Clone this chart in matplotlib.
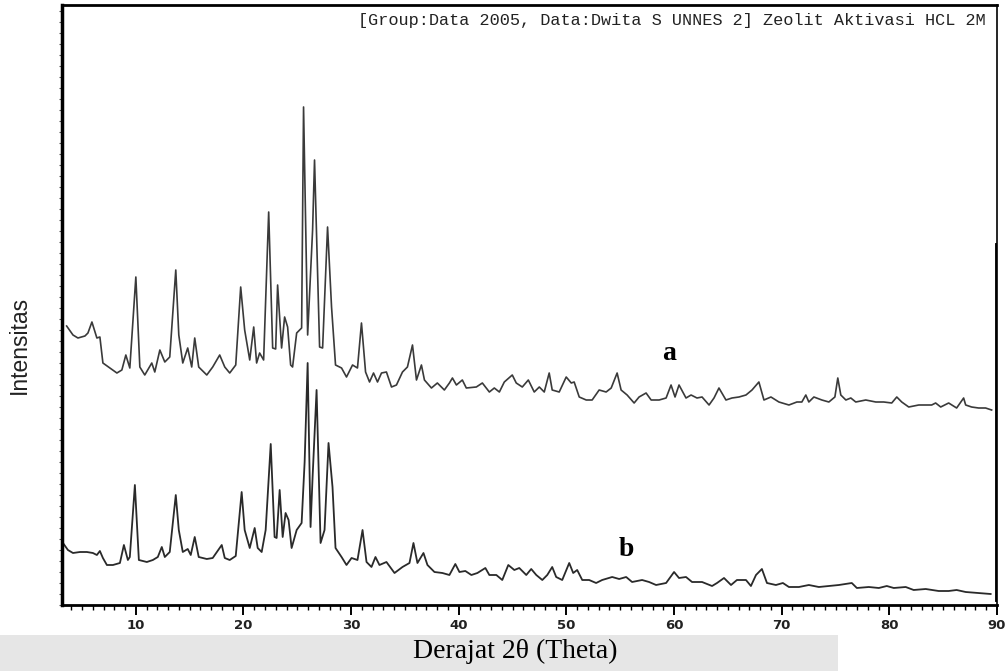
import matplotlib
matplotlib.use("Agg")
import matplotlib.pyplot as plt
from matplotlib.ticker import MultipleLocator, NullFormatter
from matplotlib.patches import Rectangle

# ---- data: 2-theta (degrees) and intensity (a.u.) ----
theta_a = [3.57, 4.16, 4.62, 5.27, 5.55, 5.92, 6.38, 6.66, 6.94, 7.59, 8.24, 8.70, 9.07, 9.44,
           10.00, 10.37, 10.83, 11.48, 11.76, 12.23, 12.69, 13.15, 13.71, 13.99, 14.36, 14.82,
           15.19, 15.47, 15.84, 16.59, 17.14, 17.79, 18.26, 18.72, 19.28, 19.74, 20.11, 20.58,
           20.95, 21.22, 21.50, 21.87, 22.34, 22.71, 22.99, 23.17, 23.54, 23.82, 24.10, 24.38,
           24.56, 24.94, 25.40, 25.58, 25.96, 26.42, 26.60, 27.07, 27.35, 27.81, 28.18, 28.55,
           29.11, 29.57, 30.13, 30.59, 30.96, 31.34, 31.71, 32.08, 32.45, 32.82, 33.28, 33.75,
           34.21, 34.77, 35.23, 35.70, 36.07, 36.53, 36.81, 37.46, 38.01, 38.66, 39.13, 39.41,
           39.78, 40.33, 40.70, 41.63, 42.19, 42.84, 43.30, 43.77, 44.23, 44.97, 45.34, 45.90,
           46.46, 47.01, 47.48, 47.94, 48.40, 48.68, 49.33, 49.98, 50.45, 50.72, 51.19, 51.84,
           52.39, 53.04, 53.69, 54.16, 54.71, 55.08, 55.64, 56.29, 56.75, 57.40, 57.87, 58.61,
           59.26, 59.72, 60.09, 60.46, 61.11, 61.58, 62.13, 62.60, 63.25, 63.71, 64.17, 64.82,
           65.38, 66.03, 66.68, 67.24, 67.88, 68.35, 69.00, 69.74, 70.67, 71.41, 71.87, 72.24,
           72.52, 72.99, 73.73, 74.38, 74.94, 75.21, 75.49, 75.96, 76.42, 76.88, 77.81, 78.74,
           79.48, 80.22, 80.69, 81.15, 81.80, 82.73, 83.93, 84.30, 84.77, 85.51, 86.25, 86.90,
           87.09, 87.64, 88.29, 88.94, 89.50]
int_a = [279, 270, 267, 269, 272, 283, 267, 268, 242, 237, 232, 235, 250, 237,
         328, 238, 230, 242, 233, 255, 243, 248, 335, 270, 242, 257,
         238, 267, 238, 230, 238, 250, 238, 232, 240, 318, 275, 245,
         278, 242, 252, 245, 393, 257, 256, 320, 257, 288, 278, 240,
         238, 272, 277, 498, 270, 375, 445, 258, 257, 378, 298, 240,
         237, 228, 240, 237, 282, 233, 223, 232, 223, 232, 233, 218,
         220, 233, 238, 260, 225, 240, 225, 217, 222, 215, 222, 227,
         220, 225, 217, 218, 222, 213, 217, 213, 223, 230, 222, 218,
         225, 213, 218, 213, 232, 215, 213, 228, 222, 223, 208, 205,
         205, 215, 213, 217, 232, 215, 210, 202, 208, 212, 205, 205,
         207, 220, 208, 220, 207, 210, 207, 208, 200, 207, 217, 205,
         207, 208, 210, 215, 223, 205, 208, 203, 200, 203, 203, 210,
         203, 208, 205, 203, 208, 227, 210, 205, 207, 203, 205, 203,
         203, 202, 208, 203, 198, 200, 200, 202, 198, 202, 197, 207,
         200, 198, 197, 197, 195]

theta_b = [3.23, 3.69, 4.16, 4.81, 5.45, 6.01, 6.38, 6.66, 6.94, 7.31, 7.87, 8.52, 8.89, 9.26,
           9.44, 9.91, 10.28, 11.02, 11.58, 12.04, 12.41, 12.69, 13.15, 13.71, 13.99, 14.36,
           14.82, 15.10, 15.47, 15.84, 16.59, 17.14, 17.98, 18.26, 18.72, 19.28, 19.83, 20.11,
           20.58, 21.04, 21.32, 21.69, 22.06, 22.53, 22.89, 23.08, 23.36, 23.64, 23.91, 24.19,
           24.47, 24.94, 25.40, 25.68, 25.96, 26.23, 26.42, 26.79, 27.16, 27.53, 27.90, 28.27,
           28.55, 29.11, 29.57, 30.04, 30.59, 31.06, 31.43, 31.89, 32.26, 32.63, 33.28, 34.03,
           34.77, 35.42, 35.79, 36.16, 36.72, 37.09, 37.74, 38.48, 39.13, 39.68, 40.06, 40.61,
           41.17, 41.73, 42.47, 42.84, 43.49, 44.04, 44.60, 45.16, 45.62, 46.27, 46.73, 47.20,
           47.76, 48.22, 48.68, 49.05, 49.61, 50.26, 50.63, 51.00, 51.47, 52.11, 52.76, 53.32,
           54.25, 54.90, 55.55, 56.10, 57.03, 57.68, 58.33, 59.26, 60.00, 60.46, 61.11, 61.67,
           62.60, 63.53, 63.99, 64.64, 65.29, 65.84, 66.68, 67.14, 67.61, 68.16, 68.63, 69.46,
           70.11, 70.67, 71.60, 72.52, 73.45, 74.38, 75.31, 76.51, 76.98, 78.09, 79.02, 79.76,
           80.41, 81.52, 82.26, 83.38, 84.58, 85.51, 86.25, 87.09, 88.29, 89.41]
int_b = [62, 55, 52, 53, 53, 52, 50, 54, 47, 40, 40, 42, 60, 45,
         48, 120, 45, 43, 45, 48, 58, 48, 53, 110, 75, 53,
         56, 50, 68, 48, 46, 47, 60, 47, 45, 49, 113, 75,
         57, 77, 57, 53, 75, 161, 68, 67, 115, 68, 92, 85,
         57, 75, 82, 143, 242, 78, 128, 215, 62, 75, 162, 118,
         57, 48, 40, 47, 45, 75, 43, 38, 48, 40, 43, 32,
         38, 42, 62, 42, 52, 40, 33, 32, 30, 41, 33, 34,
         30, 32, 37, 30, 30, 25, 40, 35, 37, 30, 36, 30,
         25, 30, 38, 28, 25, 42, 32, 35, 25, 25, 22, 25,
         28, 26, 28, 23, 25, 23, 20, 22, 33, 27, 28, 23,
         23, 19, 22, 27, 20, 25, 25, 19, 30, 36, 22, 20,
         22, 18, 18, 20, 18, 19, 20, 22, 17, 18, 17, 19,
         17, 18, 15, 16, 14, 14, 15, 13, 12, 11]

xtick_major = [10, 20, 30, 40, 50, 60, 70, 80, 90]
title_text = "[Group:Data 2005, Data:Dwita S UNNES 2] Zeolit Aktivasi HCL 2M"
xlabel_text = "Derajat 2\u03b8 (Theta)"
ylabel_text = "Intensitas"
labels = ["a", "b"]

# ---- figure ----
fig = plt.figure(figsize=(10.06, 6.71), dpi=100)
fig.patch.set_facecolor("white")

# light grey watermark band at the bottom
fig.patches.append(Rectangle((0, 0), 838 / 1006, 36 / 671, transform=fig.transFigure,
                             facecolor="#e6e6e6", edgecolor="none", zorder=0))

ax = fig.add_axes([62 / 1006, 66 / 671, 935 / 1006, 600 / 671])
ax.plot(theta_a, int_a, color="#3a3a3a", lw=1.2)
ax.plot(theta_b, int_b, color="#2a2a2a", lw=1.3)

ax.set_xlim(3.14, 90)
ax.set_ylim(0, 600)

for s in ax.spines.values():
    s.set_color("black")
    s.set_linewidth(2.0)
ax.spines["left"].set_linewidth(2.5)
ax.spines["right"].set_linewidth(1.2)
ax.axvline(90, ymin=0.01, ymax=0.6, color="black", lw=3.5)

ax.set_xticks(xtick_major)
ax.xaxis.set_minor_locator(MultipleLocator(1))
ax.tick_params(axis="x", which="major", direction="out", length=7, width=1.4,
               labelsize=9.5, pad=3)
ax.tick_params(axis="x", which="minor", direction="out", length=3.5, width=1.0)
for lab in ax.get_xticklabels():
    lab.set_fontweight("bold")
    lab.set_family("DejaVu Sans")
    lab.set_color("#222222")

ax.yaxis.set_major_locator(MultipleLocator(11))
ax.yaxis.set_major_formatter(NullFormatter())
ax.tick_params(axis="y", which="major", direction="out", length=2.5, width=0.8,
               color="#555555")
ax.tick_params(top=False, right=False)

ax.text(0.9875, 0.975, title_text, transform=ax.transAxes, ha="right", va="center",
        family="Liberation Mono", fontsize=12.2, color="#222222")

ax.text(59.5, 252, labels[0], ha="center", va="center", family="Liberation Serif",
        fontweight="bold", fontsize=20, color="black")
ax.text(55.6, 56, labels[1], ha="center", va="center", family="Liberation Serif",
        fontweight="bold", fontsize=20, color="black")

fig.text(19 / 1006, 1 - 345 / 671, ylabel_text, rotation=90, ha="center", va="center",
         family="Liberation Sans", fontsize=16.5, color="#222222")
fig.text(515 / 1006, 1 - 651 / 671, xlabel_text, ha="center", va="center",
         family="Liberation Serif", fontsize=20, color="black")

fig.savefig("out.png", dpi=100)
